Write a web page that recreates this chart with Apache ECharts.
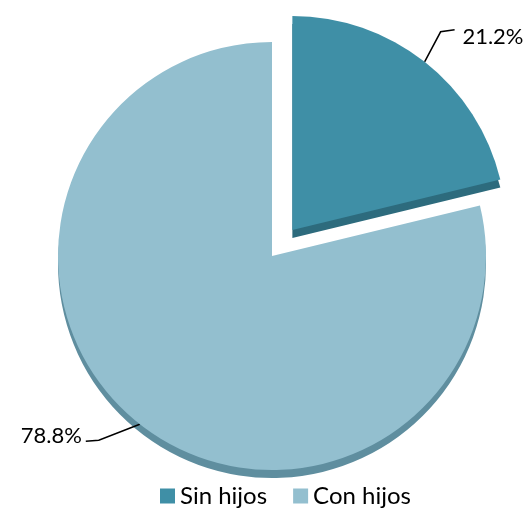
<!DOCTYPE html>
<html>
<head>
<meta charset="utf-8">
<script src="https://cdn.jsdelivr.net/npm/echarts@6/dist/echarts.min.js"></script>
<style>
  html, body { margin: 0; padding: 0; background: #fff; }
  #main { width: 526px; height: 515px; }
</style>
</head>
<body>
<div id="main"></div>
<script>
// categories and values (percent)
const categories = ["Sin hijos", "Con hijos"];
const values = [21.2, 78.8];
const topColors = ["#3f8fa6", "#93bfcf"];
const sideColors = ["#2d6b7d", "#5f8e9f"];

let myChart = echarts.init(document.getElementById("main"));

const pieData = (colors) =>
  categories.map((name, i) => ({
    name: name,
    value: values[i],
    selected: i === 0,
    itemStyle: { color: colors[i] }
  }));

// leader line segment shapes (relative to the point on the slice edge)
const leader = [
  { seg1: [16, -30], seg2: [14, -2], align: "left", dy: -14 },
  { seg1: [-41, 16], seg2: [-13, 1], align: "right", dy: -5 }
];

const option = {
  animation: false,
  legend: {
    bottom: 2,
    left: 155,
    icon: "rect",
    itemWidth: 15,
    itemHeight: 15,
    itemGap: 26,
    textStyle: { fontFamily: "Lato", fontSize: 24, color: "#000" },
    data: categories
  },
  series: [
    {
      name: "hijos",
      type: "pie",
      z: 3,
      center: [272, 256],
      radius: 214,
      startAngle: 90,
      clockwise: true,
      selectedMode: "single",
      selectedOffset: 33,
      label: {
        show: true,
        position: "outside",
        formatter: p => p.value.toFixed(1) + "%",
        fontFamily: "Lato",
        fontSize: 22,
        color: "#000"
      },
      labelLine: {
        show: true,
        length: 32,
        length2: 13,
        lineStyle: { color: "#000", width: 1.5 }
      },
      labelLayout: function (params) {
        const l = leader[params.dataIndex];
        if (!l || !params.labelLinePoints) return {};
        const p0 = params.labelLinePoints[0];
        const p1 = [p0[0] + l.seg1[0], p0[1] + l.seg1[1]];
        const p2 = [p1[0] + l.seg2[0], p1[1] + l.seg2[1]];
        return {
          x: p2[0] + (l.align === "right" ? -4 : 3),
          y: p2[1] + l.dy,
          align: l.align,
          verticalAlign: "middle",
          labelLinePoints: [p0, p1, p2]
        };
      },
      data: pieData(topColors)
    },
    {
      // depth layer (3D side)
      name: "depth",
      type: "pie",
      z: 2,
      silent: true,
      center: [272, 264],
      radius: 214,
      startAngle: 90,
      clockwise: true,
      selectedMode: "single",
      selectedOffset: 33,
      label: { show: false },
      labelLine: { show: false },
      data: pieData(sideColors)
    }
  ]
};
myChart.setOption(option, true);
</script>
</body>
</html>
